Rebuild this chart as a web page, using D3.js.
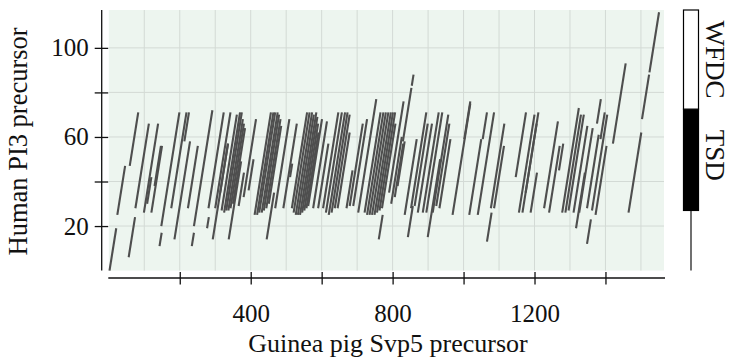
<!DOCTYPE html>
<html>
<head>
<meta charset="utf-8">
<script src="https://cdn.jsdelivr.net/npm/d3@7"></script>
<style>
  body { margin: 0; background: #fff; }
  svg text { font-family: "Liberation Serif", "Times New Roman", serif; fill: #111; }
</style>
</head>
<body>
<div id="chart"></div>
<script>
// axis extents (residues)
const xDomain = [0, 1565];
const yDomain = [0, 117];

const xTicks = [200, 400, 600, 800, 1000, 1200, 1400];
const xTickLabels = [400, 800, 1200];
const yTicks = [20, 40, 60, 80, 100];
const yTickLabels = [20, 60, 100];
const xGrid = [100, 200, 300, 400, 500, 600, 700, 800, 900, 1000, 1100, 1200, 1300, 1400, 1500];
const yGrid = [20, 40, 60, 80, 100];

// domains of the human sequence (start, end)
const domainNames = ["TSD", "WFDC"];
const domainStart = [27, 72.5];
const domainEnd = [72.5, 117];

// dot-plot diagonals: x at lower end, y at lower end, y at upper end
const segX = [2, 24, 59, 56, 75, 99, 108, 120, 129, 148, 143, 176, 185, 213, 223, 234, 240,
  281, 277, 293, 300, 314, 318, 325, 331, 337, 343, 350, 338, 366, 380, 394,
  411, 418, 424, 431, 437, 444, 451, 445, 469, 492, 511, 516,
  521, 527, 533, 539, 545, 551, 557, 562, 576, 590,
  604, 612, 620, 628, 637, 645, 670, 679, 689, 703,
  721, 728, 735, 742, 749, 756, 763, 770, 761, 790, 796, 806, 814, 829, 854, 834, 843, 852,
  862, 871, 885, 895, 899, 913, 923, 932, 969, 1002, 1016, 1040, 1054, 1066, 1077, 1086,
  1147, 1156, 1166, 1175, 1189, 1227, 1241, 1269, 1278, 1287, 1296, 1310, 1317, 1326,
  1348, 1348, 1362, 1372, 1376, 1386, 1421, 1465, 1503, 1524];
const segY0 = [0, 25, 47, 6, 28, 26, 30, 26, 38, 20, 11, 28, 14, 58, 28, 11, 20,
  28, 19, 14, 28, 35, 27, 26, 27, 27, 28, 30, 14, 29, 33, 36,
  25, 25, 26, 26, 27, 28, 30, 14, 28, 28, 42, 28,
  26, 25, 25, 25, 26, 27, 28, 29, 28, 28,
  28, 26, 25, 26, 28, 28, 28, 29, 29, 26,
  26, 25, 25, 25, 25, 26, 27, 28, 14, 35, 30, 33, 38, 58, 83, 25, 15, 28,
  29, 26, 26, 26, 15, 26, 29, 28, 25, 59, 25, 25, 59, 13, 28, 28,
  42, 26, 26, 35, 26, 28, 26, 45, 26, 26, 27, 26, 19, 26,
  12, 28, 27, 25, 66, 59, 57, 26, 68, 89];
const segY1 = [19, 47, 71, 24, 66, 66, 42, 56, 56, 71, 17, 71, 58, 71, 56, 17, 72,
  71, 24, 57, 71, 57, 70, 71, 71, 68, 66, 64, 49, 44, 68, 50,
  71, 71, 71, 71, 70, 68, 65, 35, 68, 66, 48, 71,
  71, 71, 70, 71, 69, 66, 62, 68, 67, 57,
  71, 71, 71, 71, 70, 62, 45, 66, 68, 77,
  71, 71, 71, 71, 71, 71, 71, 66, 25, 76, 60, 57, 58, 82, 88, 59, 29, 71,
  66, 66, 71, 71, 50, 70, 66, 59, 75, 76, 59, 71, 71, 26, 66, 56,
  71, 70, 71, 66, 44, 67, 56, 57, 73, 70, 70, 65, 44, 64,
  23, 61, 70, 56, 77, 71, 93, 62, 88, 116];

const width = 731, height = 360;

const svg = d3.select("#chart").append("svg")
  .attr("width", width)
  .attr("height", height);

const x = d3.scaleLinear().domain(xDomain).range([108.8, 664]);
const y = d3.scaleLinear().domain(yDomain).range([270.6, 10]);

// panel
svg.append("rect")
  .attr("x", x(xDomain[0])).attr("y", y(yDomain[1]))
  .attr("width", x(xDomain[1]) - x(xDomain[0]))
  .attr("height", y(yDomain[0]) - y(yDomain[1]))
  .attr("fill", "#edf5ef");

const grid = svg.append("g").attr("stroke", "#d3dad5").attr("stroke-width", 1);
grid.selectAll(".gx").data(xGrid).join("line")
  .attr("x1", d => x(d)).attr("x2", d => x(d))
  .attr("y1", y(yDomain[0])).attr("y2", y(yDomain[1]));
grid.selectAll(".gy").data(yGrid).join("line")
  .attr("y1", d => y(d)).attr("y2", d => y(d))
  .attr("x1", x(xDomain[0])).attr("x2", x(xDomain[1]));

// diagonals
svg.append("g")
  .attr("stroke", "#4e4e4e")
  .attr("stroke-width", 2.1)
  .selectAll("line")
  .data(d3.range(segX.length))
  .join("line")
  .attr("x1", i => x(segX[i]))
  .attr("y1", i => y(segY0[i]))
  .attr("x2", i => x(segX[i] + segY1[i] - segY0[i]))
  .attr("y2", i => y(segY1[i]));

// x axis
const xAxis = g => g.attr("transform", "translate(0,278)")
  .call(d3.axisBottom(x).tickValues(xTicks).tickSize(0).tickSizeOuter(0)
    .tickFormat(d => xTickLabels.includes(d) ? d : ""))
  .call(g => g.select(".domain").attr("stroke", "#111").attr("stroke-width", 1.3)
    .attr("d", `M${x(xDomain[0]) - 0.5},0H${x(xDomain[1]) + 1}`))
  .call(g => g.selectAll(".tick line").attr("stroke", "#111").attr("stroke-width", 1.3)
    .attr("y1", -6).attr("y2", 6.5))
  .call(g => g.selectAll(".tick text").attr("y", 26).attr("font-size", 25)
    .attr("font-family", "Liberation Serif").attr("fill", "#111"));

// y axis
const yAxis = g => g.attr("transform", "translate(101.7,0)")
  .call(d3.axisLeft(y).tickValues(yTicks).tickSize(0).tickSizeOuter(0)
    .tickFormat(d => yTickLabels.includes(d) ? d : ""))
  .call(g => g.select(".domain").attr("stroke", "#111").attr("stroke-width", 1.3)
    .attr("d", `M0,${y(yDomain[0])}V${y(yDomain[1])}`))
  .call(g => g.selectAll(".tick line").attr("stroke", "#111").attr("stroke-width", 1.3)
    .attr("x1", -7).attr("x2", 6.5))
  .call(g => g.selectAll(".tick text").attr("x", -13).attr("font-size", 25)
    .attr("font-family", "Liberation Serif").attr("fill", "#111"));

svg.append("g").call(xAxis);
svg.append("g").call(yAxis);

svg.append("text")
  .attr("x", 388).attr("y", 352)
  .attr("text-anchor", "middle")
  .attr("font-size", 26)
  .text("Guinea pig Svp5 precursor");

svg.append("text")
  .attr("transform", `translate(27,${y(58)}) rotate(-90)`)
  .attr("text-anchor", "middle")
  .attr("font-size", 26.5)
  .text("Human PI3 precursor");

// domain bar of the human sequence
const bar = svg.append("g");
bar.append("line")
  .attr("x1", 691).attr("x2", 691)
  .attr("y1", y(0)).attr("y2", y(domainStart[0]))
  .attr("stroke", "#111").attr("stroke-width", 1.2);
bar.selectAll("rect").data(domainNames).join("rect")
  .attr("x", 683.5).attr("width", 15)
  .attr("y", (d, i) => y(domainEnd[i]))
  .attr("height", (d, i) => y(domainStart[i]) - y(domainEnd[i]))
  .attr("fill", (d, i) => i === 0 ? "#000" : "#fff")
  .attr("stroke", "#000").attr("stroke-width", 1.2);
bar.selectAll("text").data(domainNames).join("text")
  .attr("transform", (d, i) => `translate(706,${y((domainStart[i] + domainEnd[i]) / 2 + (i === 0 ? 2 : 0))}) rotate(90)`)
  .attr("text-anchor", "middle")
  .attr("font-size", 27)
  .text(d => d);
</script>
</body>
</html>
